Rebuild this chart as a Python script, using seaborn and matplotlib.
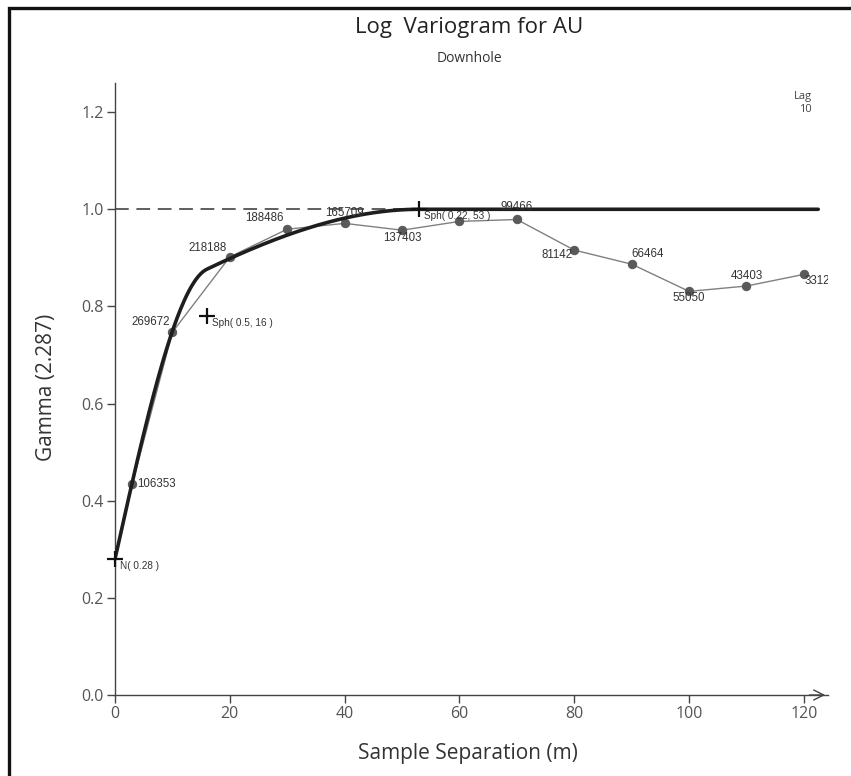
import matplotlib
matplotlib.use("Agg")
import matplotlib.pyplot as plt
import numpy as np
import pandas as pd
import seaborn as sns
from matplotlib.patches import Rectangle

# experimental variogram (lag in m, gamma, number of pairs)
lags = [3, 10, 20, 30, 40, 50, 60, 70, 80, 90, 100, 110, 120]
gamma = [0.434, 0.747, 0.902, 0.959, 0.971, 0.957, 0.975, 0.979, 0.916, 0.887, 0.831, 0.842, 0.866]
pairs = ["106353", "269672", "218188", "188486", "165709", "137403", "", "99466",
         "81142", "66464", "55050", "43403", "33125"]

# fitted model: nugget + two spherical structures
nugget = 0.28
sph_sills = [0.5, 0.22]
sph_ranges = [16, 53]
model_labels = ["N( 0.28 )", "Sph( 0.5, 16 )", "Sph( 0.22, 53 )"]

# label placement (offset in pixels, horizontal alignment)
label_pos = [((5, 0), "left"), ((-2, 10), "right"), ((-3, 9), "right"), ((-4, 11), "right"),
             ((0, 10), "center"), ((0, -8), "center"), ((0, 10), "center"), ((0, 12), "center"),
             ((-2, -5), "right"), ((0, 10), "left"), ((0, -7), "center"), ((0, 10), "center"),
             ((1, -7), "left")]


def spherical(h, sill, rng):
    r = np.clip(h / rng, 0, 1)
    return sill * (1.5 * r - 0.5 * r ** 3)


def main() -> None:
    sns.set_style("white")
    plt.rcParams["font.family"] = ["Open Sans", "DejaVu Sans"]

    fig = plt.figure(figsize=(8.51, 7.76), dpi=100)
    ax = fig.add_axes([115 / 851, 1 - 695 / 776, (828 - 115) / 851, (695 - 83) / 776])

    xmax, ymax = 124.2, 1.26
    ax.set_xlim(0, xmax)
    ax.set_ylim(0, ymax)
    h_end = 122.5

    total = nugget + sum(sph_sills)
    ax.hlines(total, 0, h_end, color="#333333", lw=1.1, ls=(0, (9, 5)), zorder=1)

    h = np.linspace(0, h_end, 600)
    model = nugget + sum(spherical(h, s, r) for s, r in zip(sph_sills, sph_ranges))
    model_df = pd.DataFrame({"h": h, "gamma": model})
    sns.lineplot(data=model_df, x="h", y="gamma", ax=ax, color="#1e1e1e", lw=2.6, zorder=3)

    exp_df = pd.DataFrame({"lag": lags, "gamma": gamma})
    sns.lineplot(data=exp_df, x="lag", y="gamma", ax=ax, color="#808080", lw=1.0,
                 marker="o", markersize=6, markerfacecolor="#5a5a5a", markeredgecolor="#5a5a5a",
                 zorder=2)

    for x, y, txt, (off, ha) in zip(lags, gamma, pairs, label_pos):
        if not txt:
            continue
        ax.annotate(txt, (x, y), xytext=off, textcoords="offset pixels", ha=ha, va="center",
                    fontsize=8.3, color="#333333", family=["Liberation Sans", "DejaVu Sans"],
                    annotation_clip=False, clip_on=True, zorder=4)

    # structure markers
    cross_x = [0, sph_ranges[0], sph_ranges[1]]
    cross_y = [nugget, nugget + sph_sills[0], total]
    ax.plot(cross_x, cross_y, ls="none", marker="+", markersize=12, mew=1.6, color="#111111",
            zorder=5, clip_on=False)
    for x, y, txt in zip(cross_x, cross_y, model_labels):
        ax.annotate(txt, (x, y), xytext=(5, -7), textcoords="offset pixels", ha="left",
                    va="center", fontsize=7.2, color="#333333",
                    family=["Liberation Sans", "DejaVu Sans"], zorder=5)

    sns.despine(ax=ax)
    for side in ["left", "bottom"]:
        ax.spines[side].set_color("#444444")
        ax.spines[side].set_linewidth(1.0)
    ax.annotate("", xy=(1.0, 0), xytext=(0.97, 0), xycoords="axes fraction",
                arrowprops=dict(arrowstyle="->", lw=1.0, color="#444444", mutation_scale=18),
                annotation_clip=False)

    ax.set_xticks([0, 20, 40, 60, 80, 100, 120])
    ax.set_yticks([0.0, 0.2, 0.4, 0.6, 0.8, 1.0, 1.2])
    ax.set_yticklabels([f"{v:.1f}" for v in ax.get_yticks()])
    ax.tick_params(axis="both", direction="out", length=6, width=1.0, color="#444444",
                   labelsize=11.5, labelcolor="#555555", left=True, bottom=True, pad=2)

    ax.set_xlabel("Sample Separation (m)", fontsize=15, color="#333333")
    ax.set_ylabel("Gamma (2.287)", fontsize=15, color="#333333")
    ax.xaxis.set_label_coords(0.495, -0.079)
    ax.yaxis.set_label_coords(-0.082, 0.503)

    fig.text(469 / 851, 1 - 27 / 776, "Log  Variogram for AU", ha="center", va="center",
             fontsize=16, color="#222222")
    fig.text(469 / 851, 1 - 58 / 776, "Downhole", ha="center", va="center",
             fontsize=10, color="#333333")
    fig.text(803 / 851, 1 - 96 / 776, "Lag", ha="center", va="center", fontsize=8,
             color="#444444")
    fig.text(805 / 851, 1 - 110 / 776, "10", ha="center", va="center", fontsize=8,
             color="#444444")

    # outer frame around the chart
    fig.patches.append(Rectangle((9 / 851, -0.1), 1.2, 1 - 8 / 776 + 0.1, transform=fig.transFigure,
                                 fill=False, ec="#111111", lw=2.4, zorder=10))

    fig.savefig("out.png", dpi=100)
    plt.close(fig)


if __name__ == "__main__":
    main()
